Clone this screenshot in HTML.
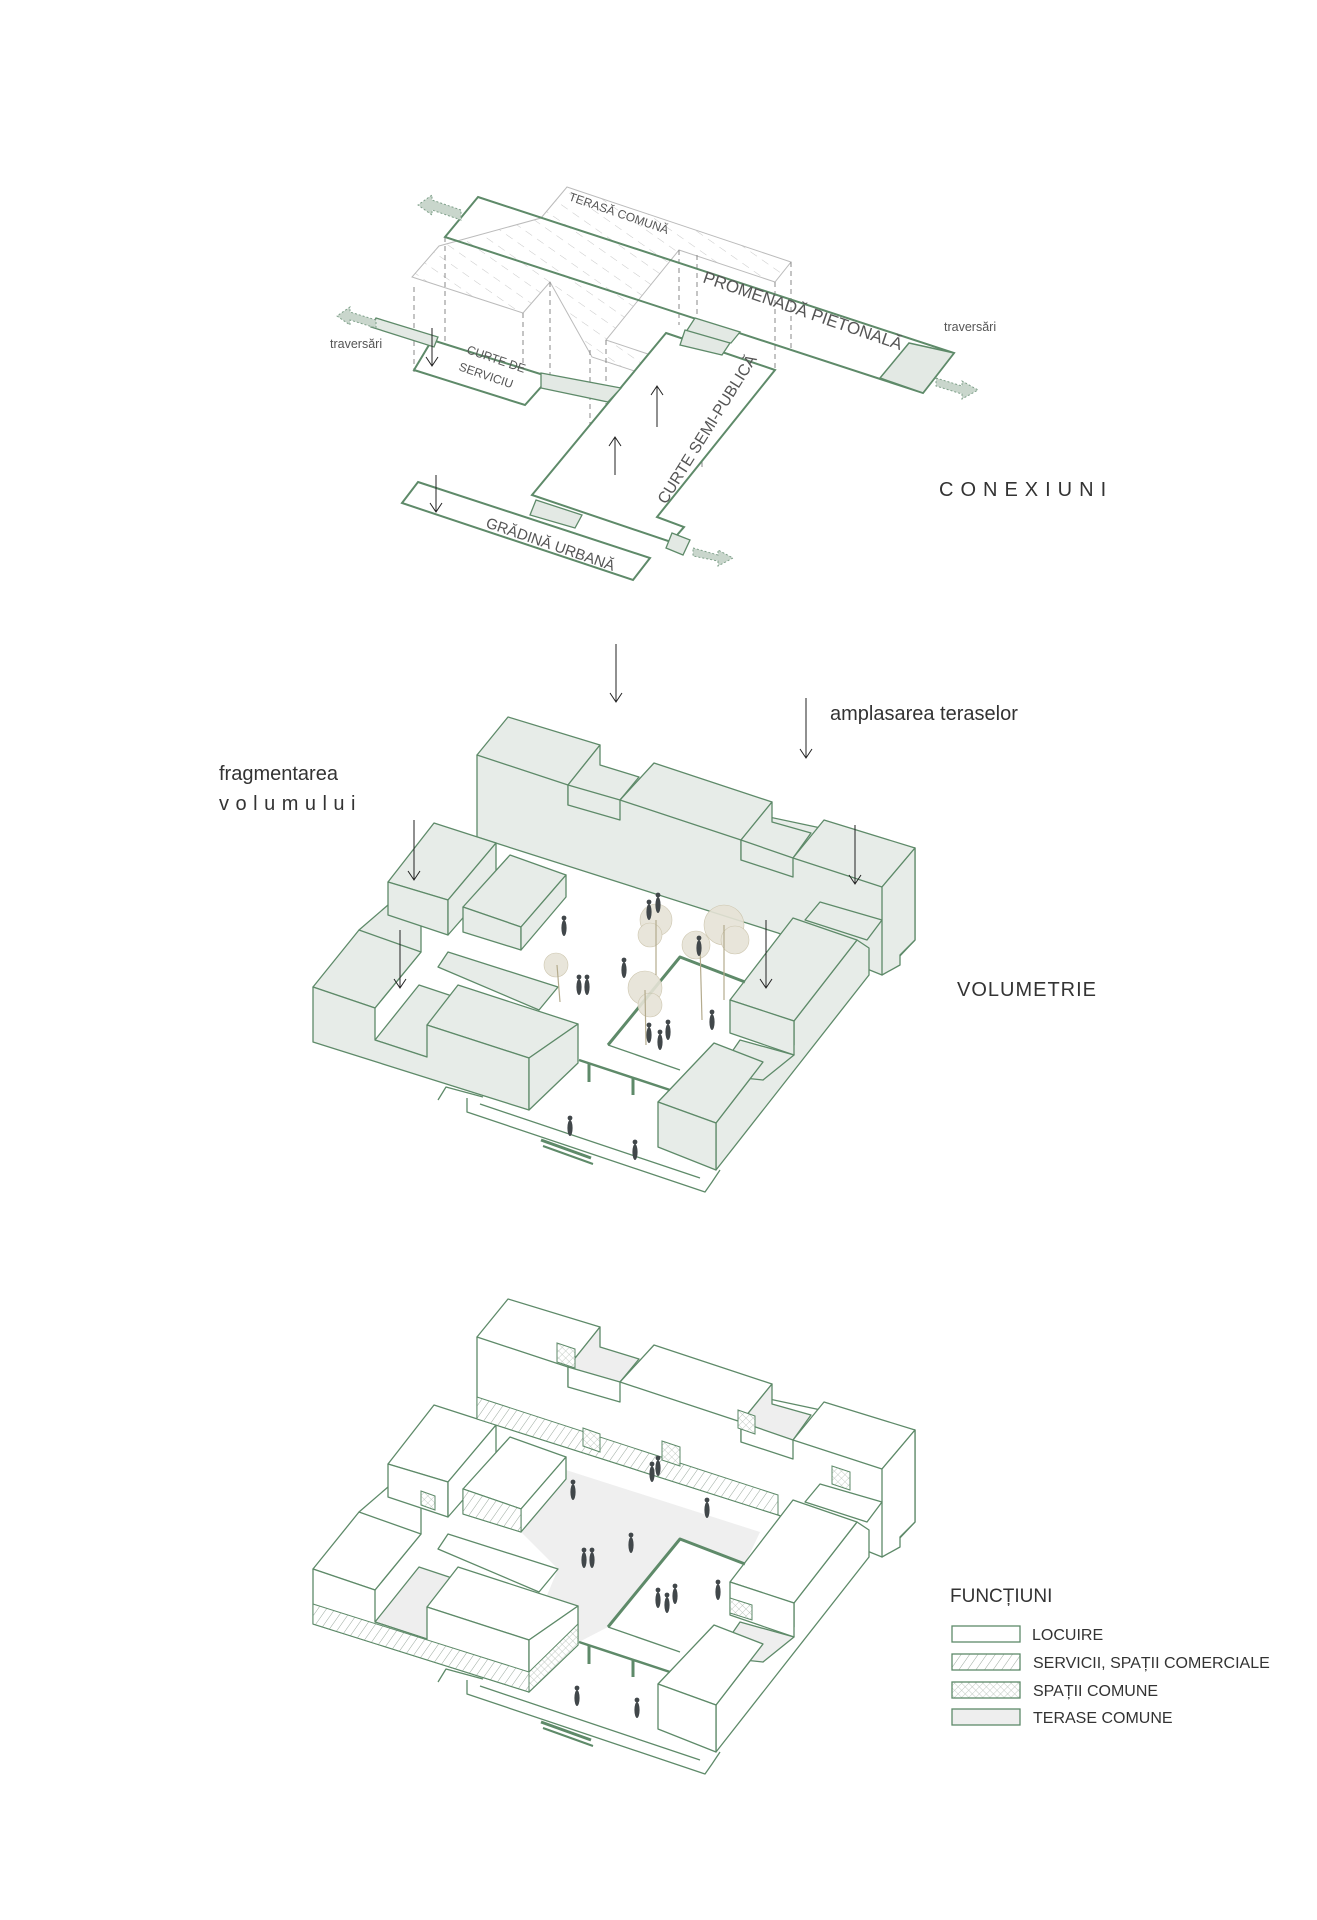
<!DOCTYPE html>
<html><head><meta charset="utf-8">
<style>
html,body{margin:0;padding:0;background:#fff;}
svg{display:block;}
.t{font-family:"Liberation Sans",sans-serif;fill:#555;}
.k{font-family:"Liberation Sans",sans-serif;fill:#333;}
.m polygon,.m polyline{stroke:#5e8a69;stroke-width:1.3;stroke-linejoin:round;fill:var(--f);}
.m .ter{fill:var(--t);}
</style></head>
<body>
<svg width="1317" height="1920" viewBox="0 0 1317 1920" xmlns="http://www.w3.org/2000/svg">
<defs>
<pattern id="hat" width="7" height="7" patternUnits="userSpaceOnUse" patternTransform="rotate(35)">
<rect width="7" height="7" fill="#fff"/><line x1="0" y1="0" x2="0" y2="7" stroke="#9aa89d" stroke-width="1"/></pattern>
<pattern id="xh" width="5" height="5" patternUnits="userSpaceOnUse" patternTransform="rotate(45)">
<rect width="5" height="5" fill="#fff"/><line x1="0" y1="0" x2="0" y2="5" stroke="#b5bfb7" stroke-width="0.8"/><line x1="0" y1="0" x2="5" y2="0" stroke="#b5bfb7" stroke-width="0.8"/></pattern>
<pattern id="ghost" width="14" height="14" patternUnits="userSpaceOnUse" patternTransform="rotate(-55)">
<line x1="0" y1="3" x2="0" y2="11" stroke="#c8c8c8" stroke-width="1"/></pattern>
<marker id="ah" markerWidth="14" markerHeight="14" refX="11" refY="7" orient="auto" markerUnits="userSpaceOnUse">
<polyline points="2,1 11,7 2,13" fill="none" stroke="#222" stroke-width="1"/></marker>

<g id="mass" class="m">
 <polygon points="477,755 915,848 915,940 882,975 778,933 477,837"/>
 <polygon points="477,755 508,717 600,745 568,785"/>
 <polygon class="ter" points="568,785 600,745 600,765 639,777 620,800 568,805"/>
 <polygon points="568,785 568,805 620,820 620,800"/>
 <polygon points="620,800 654,763 772,802 741,840"/>
 <polygon class="ter" points="741,840 772,802 772,822 811,833 793,858 741,860"/>
 <polygon points="741,840 741,860 793,877 793,858"/>
 <polygon points="793,858 824,820 915,848 882,887"/>
 <polygon points="882,887 915,848 915,940 900,955 900,965 882,975"/>
 <polygon points="359,930 388,905 421,925 421,952 375,1008"/>
 <polygon points="388,882 434,823 496,843 448,900"/>
 <polygon points="388,882 448,900 448,935 388,915"/>
 <polygon points="448,900 496,843 496,880 448,935"/>
 <polygon points="463,907 510,855 566,875 521,927"/>
 <polygon points="463,907 521,927 521,950 463,932"/>
 <polygon points="521,927 566,875 566,897 521,950"/>
 <polygon points="438,967 448,952 558,987 539,1010"/>
 <polygon class="ter" points="375,1040 419,985 458,998 427,1057"/>
 <polygon points="313,987 359,930 421,952 375,1008"/>
 <polygon points="427,1025 458,985 578,1024 529,1058"/>
 <polygon points="313,987 375,1008 375,1040 427,1057 427,1025 529,1058 529,1110 313,1042"/>
 <polygon points="529,1058 578,1024 578,1063 529,1110"/>
 <polygon points="805,920 820,902 882,920 867,940"/>
 <polygon points="716,1170 716,1123 763,1062 763,1080 794,1045 794,1021 857,940 869,948 869,975"/>
 <polygon points="730,1000 793,918 857,940 794,1021"/>
 <polygon points="730,1000 794,1021 794,1055 730,1033"/>
 <polygon class="ter" points="716,1075 740,1040 794,1055 763,1080"/>
 <polygon points="658,1102 714,1043 763,1062 716,1123"/>
 <polygon points="658,1102 716,1123 716,1170 658,1147"/>
 <polyline style="fill:none" points="438,1100 446,1087 483,1097"/>
 <polyline style="fill:none" points="467,1098 467,1112 705,1192 712,1182 720,1170"/>
 <polyline style="fill:none" points="480,1104 700,1178"/>
 <polyline style="fill:none;stroke-width:3" points="608,1045 680,957 745,982"/>
 <polyline style="fill:none" points="608,1045 680,1070"/>
 <polyline style="fill:none;stroke-width:2.5" points="579,1060 670,1090"/>
 <line x1="589" y1="1063" x2="589" y2="1082" stroke="#5e8a69" stroke-width="3"/>
 <line x1="633" y1="1078" x2="633" y2="1095" stroke="#5e8a69" stroke-width="3"/>
 <line x1="541" y1="1140" x2="591" y2="1158" stroke="#5e8a69" stroke-width="3"/>
 <line x1="543" y1="1146" x2="593" y2="1164" stroke="#5e8a69" stroke-width="2"/>
</g>
<g id="ppl" fill="#41474a">
 <ellipse cx="0" cy="0" rx="2.6" ry="8"/><circle cx="0" cy="-10" r="2.4"/>
</g>
</defs>

<!-- ===== TOP: CONEXIUNI ===== -->
<g stroke-width="1">
 <polygon points="567,187 791,262 775,282 679,250 606,340 702,372 686,388 592,357 550,282 523,313 412,277 439,246 541,218" fill="url(#ghost)" stroke="#bbb"/>
 <g stroke="#888" stroke-dasharray="5,4">
  <line x1="414" y1="287" x2="414" y2="372"/><line x1="445" y1="237" x2="445" y2="345"/>
  <line x1="523" y1="313" x2="523" y2="405"/><line x1="550" y1="282" x2="550" y2="380"/>
  <line x1="590" y1="350" x2="590" y2="450"/><line x1="606" y1="340" x2="606" y2="445"/>
  <line x1="679" y1="250" x2="679" y2="325"/><line x1="697" y1="255" x2="697" y2="320"/>
  <line x1="686" y1="388" x2="686" y2="470"/><line x1="702" y1="372" x2="702" y2="470"/>
  <line x1="775" y1="282" x2="775" y2="370"/><line x1="791" y1="262" x2="791" y2="350"/>
 </g>
</g>
<g fill="none" stroke="#5e8a69" stroke-width="2">
 <polygon points="478,197 954,353 923,393 445,237"/>
 <polygon points="909,343 954,353 923,393 880,378" fill="#e3e9e4" stroke-width="1.5"/>
 <polygon points="666,333 775,370 657,517 684,527 671,542 532,495" fill="#fff"/>
 <polygon points="418,482 650,558 633,580 402,503" fill="#fff"/>
 <polygon points="432,340 550,377 525,405 414,370" fill="#fff"/>
 <polygon points="376,318 438,337 434,347 371,327" fill="#e3e9e4" stroke-width="1.3"/>
 <polygon points="541,373 621,388 608,402 541,388" fill="#e3e9e4" stroke-width="1.3"/>
 <polygon points="695,318 740,332 731,343 682,338" fill="#e3e9e4" stroke-width="1.3"/>
 <polygon points="685,330 730,343 722,355 680,345" fill="#e3e9e4" stroke-width="1.3"/>
 <polygon points="536,500 582,515 575,528 530,515" fill="#e3e9e4" stroke-width="1.3"/>
 <polygon points="672,533 690,540 683,555 666,548" fill="#e3e9e4" stroke-width="1.3"/>
</g>
<g fill="#c9d6cc" stroke="#7fa08a" stroke-dasharray="2,2">
 <polygon points="461,210 432,200 432,195 418,205 432,215 432,210 461,220"/>
 <polygon points="376,320 350,312 350,307 337,316 350,325 350,320 376,328"/>
 <polygon points="936,378 962,386 962,381 978,390 962,399 962,394 936,386"/>
 <polygon points="693,548 718,555 718,550 733,558 718,566 718,561 693,556"/>
</g>
<g stroke="#222" stroke-width="1" marker-end="url(#ah)">
 <line x1="432" y1="328" x2="432" y2="366"/>
 <line x1="436" y1="475" x2="436" y2="512"/>
 <line x1="657" y1="427" x2="657" y2="386"/>
 <line x1="615" y1="475" x2="615" y2="437"/>
</g>
<g class="t">
 <text x="568" y="200" font-size="12" transform="rotate(19 568 200)">TERASĂ COMUNĂ</text>
 <text x="702" y="282" font-size="17" transform="rotate(19 702 282)">PROMENADĂ PIETONALĂ</text>
 <text x="466" y="353" font-size="12" transform="rotate(19 466 353)">CURTE DE</text>
 <text x="458" y="370" font-size="12" transform="rotate(19 458 370)">SERVICIU</text>
 <text x="0" y="0" font-size="16" transform="translate(666,505) rotate(-58)">CURTE SEMI-PUBLICĂ</text>
 <text x="485" y="527" font-size="15" transform="rotate(19 485 527)">GRĂDINĂ URBANĂ</text>
 <text x="330" y="348" font-size="12.5">traversări</text>
 <text x="944" y="331" font-size="12.5">traversări</text>
</g>
<text class="k" x="939" y="496" font-size="20" letter-spacing="7">CONEXIUNI</text>

<!-- ===== MIDDLE: VOLUMETRIE ===== -->
<use href="#mass" style="--f:#e7ece8;--t:#e7ece8"/>
<g>
 <g fill="#e6e3d6" stroke="#c9c1a8" stroke-width="0.6" opacity="0.9">
  <circle cx="656" cy="920" r="16"/><circle cx="650" cy="935" r="12"/>
  <circle cx="724" cy="925" r="20"/><circle cx="735" cy="940" r="14"/>
  <circle cx="696" cy="945" r="14"/><circle cx="645" cy="988" r="17"/><circle cx="650" cy="1005" r="12"/>
  <circle cx="556" cy="965" r="12"/>
 </g>
 <g stroke="#b4ab8d" stroke-width="1.2">
  <line x1="656" y1="920" x2="656" y2="975"/><line x1="724" y1="925" x2="724" y2="1000"/>
  <line x1="700" y1="945" x2="702" y2="1020"/><line x1="645" y1="990" x2="646" y2="1045"/>
  <line x1="557" y1="965" x2="560" y2="1002"/>
 </g>
 <use href="#ppl" x="658" y="905"/><use href="#ppl" x="649" y="912"/><use href="#ppl" x="564" y="928"/>
 <use href="#ppl" x="624" y="970"/><use href="#ppl" x="579" y="987"/><use href="#ppl" x="587" y="987"/>
 <use href="#ppl" x="699" y="948"/><use href="#ppl" x="712" y="1022"/><use href="#ppl" x="668" y="1032"/>
 <use href="#ppl" x="649" y="1035"/><use href="#ppl" x="660" y="1042"/><use href="#ppl" x="570" y="1128"/>
 <use href="#ppl" x="635" y="1152"/>
</g>
<g stroke="#222" stroke-width="1" marker-end="url(#ah)">
 <line x1="616" y1="644" x2="616" y2="702"/>
 <line x1="806" y1="698" x2="806" y2="758"/>
 <line x1="414" y1="820" x2="414" y2="880"/>
 <line x1="400" y1="930" x2="400" y2="988"/>
 <line x1="855" y1="825" x2="855" y2="884"/>
 <line x1="766" y1="920" x2="766" y2="988"/>
</g>
<text class="k" x="830" y="720" font-size="20">amplasarea teraselor</text>
<text class="k" x="219" y="780" font-size="20">fragmentarea</text>
<text class="k" x="219" y="810" font-size="20" letter-spacing="6.5">volumului</text>
<text class="k" x="957" y="996" font-size="20" letter-spacing="1">VOLUMETRIE</text>

<!-- ===== BOTTOM: FUNCTIUNI ===== -->
<polygon points="566,1470 760,1532 745,1564 680,1539 608,1627 579,1642 545,1600 558,1569 521,1532" fill="#efefef"/>
<use href="#mass" y="582" style="--f:#ffffff;--t:#eeeeee"/>
<g stroke="#5e8a69" stroke-width="1">
 <polygon points="477,1397 778,1495 778,1515 477,1419" fill="url(#hat)"/>
 <polygon points="313,1604 529,1672 529,1692 313,1624" fill="url(#hat)"/>
 <polygon points="463,1489 521,1509 521,1532 463,1514" fill="url(#hat)"/>
 <polygon points="529,1672 578,1624 578,1645 529,1692" fill="url(#xh)"/>
 <polygon points="557,1343 575,1349 575,1368 557,1362" fill="url(#xh)"/>
 <polygon points="583,1428 600,1434 600,1452 583,1446" fill="url(#xh)"/>
 <polygon points="662,1441 680,1447 680,1466 662,1460" fill="url(#xh)"/>
 <polygon points="738,1410 755,1416 755,1434 738,1428" fill="url(#xh)"/>
 <polygon points="832,1466 850,1472 850,1490 832,1484" fill="url(#xh)"/>
 <polygon points="421,1491 435,1496 435,1510 421,1505" fill="url(#xh)"/>
 <polygon points="730,1598 752,1605 752,1620 730,1613" fill="url(#xh)"/>
</g>
<g>
 <use href="#ppl" x="658" y="1468"/><use href="#ppl" x="652" y="1474"/><use href="#ppl" x="573" y="1492"/>
 <use href="#ppl" x="707" y="1510"/><use href="#ppl" x="631" y="1545"/><use href="#ppl" x="584" y="1560"/>
 <use href="#ppl" x="592" y="1560"/><use href="#ppl" x="718" y="1592"/><use href="#ppl" x="658" y="1600"/>
 <use href="#ppl" x="667" y="1605"/><use href="#ppl" x="675" y="1596"/><use href="#ppl" x="577" y="1698"/>
 <use href="#ppl" x="637" y="1710"/>
</g>

<text class="k" x="950" y="1602" font-size="19">FUNCȚIUNI</text>
<g stroke="#5e8a69" stroke-width="1.3">
 <rect x="952" y="1626" width="68" height="16" fill="#fff"/>
 <rect x="952" y="1654" width="68" height="16" fill="url(#hat)"/>
 <rect x="952" y="1682" width="68" height="16" fill="url(#xh)"/>
 <rect x="952" y="1709" width="68" height="16" fill="#eeeeee"/>
</g>
<g class="k" font-size="16">
 <text x="1032" y="1640">LOCUIRE</text>
 <text x="1033" y="1668">SERVICII, SPAȚII COMERCIALE</text>
 <text x="1033" y="1696">SPAȚII COMUNE</text>
 <text x="1033" y="1723">TERASE COMUNE</text>
</g>
</svg>
</body></html>
